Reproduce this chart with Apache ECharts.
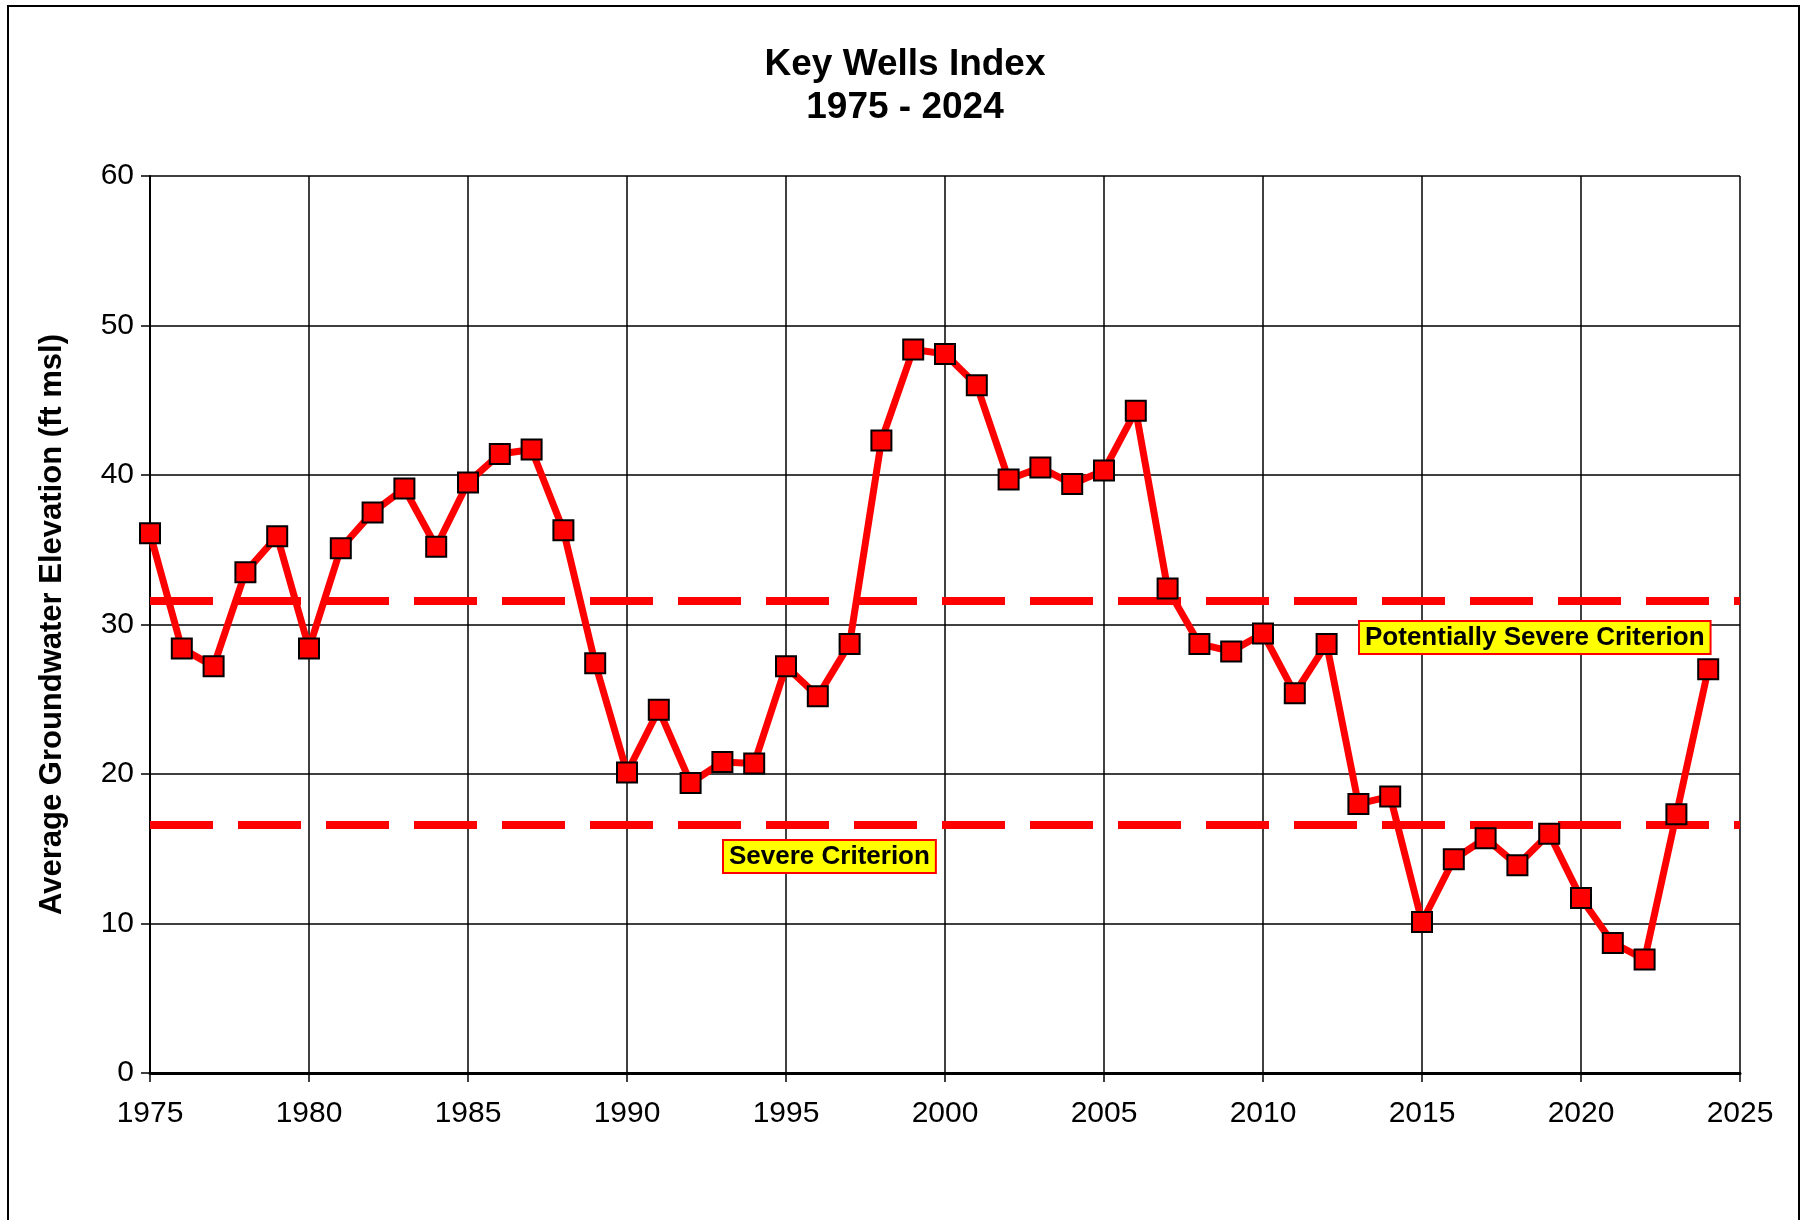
<!DOCTYPE html>
<html>
<head>
<meta charset="utf-8">
<title>Key Wells Index</title>
<script src="https://cdn.jsdelivr.net/npm/echarts@6/dist/echarts.min.js"></script>
<style>
  html, body { margin: 0; padding: 0; background: #fff; }
  #keyWellsChart { width: 1800px; height: 1220px; }
</style>
</head>
<body>
<div id="keyWellsChart"></div>
<script>
// years and average groundwater elevation (ft msl)
const years = [
  1975, 1976, 1977, 1978, 1979, 1980, 1981, 1982, 1983, 1984,
  1985, 1986, 1987, 1988, 1989, 1990, 1991, 1992, 1993, 1994,
  1995, 1996, 1997, 1998, 1999, 2000, 2001, 2002, 2003, 2004,
  2005, 2006, 2007, 2008, 2009, 2010, 2011, 2012, 2013, 2014,
  2015, 2016, 2017, 2018, 2019, 2020, 2021, 2022, 2023, 2024
];
const elevation = [
  36.1, 28.4, 27.2, 33.5, 35.9, 28.4, 35.1, 37.5, 39.1, 35.2,
  39.5, 41.4, 41.7, 36.3, 27.4, 20.1, 24.3, 19.4, 20.8, 20.7,
  27.2, 25.2, 28.7, 42.3, 48.4, 48.1, 46.0, 39.7, 40.5, 39.4,
  40.3, 44.3, 32.4, 28.7, 28.2, 29.4, 25.4, 28.7, 18.0, 18.5,
  10.1, 14.3, 15.7, 13.9, 16.0, 11.7, 8.7, 7.6, 17.3, 27.0
];
const criteriaNames = ["Potentially Severe Criterion", "Severe Criterion"];
const criteriaValues = [31.6, 16.6];

const xTicks = [1975, 2025, 5];   // min, max, interval
const yTicks = [0, 60, 10];

const fontFamily = "'Liberation Sans', Arial, sans-serif";

const chart = echarts.init(document.getElementById("keyWellsChart"));

const labelBox = {
  fontFamily: fontFamily,
  fontSize: 26,
  fontWeight: "bold",
  fill: "#000",
  backgroundColor: "#ffff00",
  borderColor: "#ff0000",
  borderWidth: 2,
  padding: [3, 5, 2, 5]
};

const option = {
  backgroundColor: "#fff",
  animation: false,
  title: {
    text: "Key Wells Index\n1975 - 2024",
    left: 900,
    top: 38,
    textAlign: "center",
    textStyle: {
      fontFamily: fontFamily,
      fontSize: 37,
      fontWeight: "bold",
      color: "#000",
      lineHeight: 43
    }
  },
  grid: {
    left: 150,
    right: 60,
    top: 176,
    bottom: 147
  },
  xAxis: {
    type: "value",
    min: xTicks[0],
    max: xTicks[1],
    interval: xTicks[2],
    axisLine: { show: true, onZero: false, lineStyle: { color: "#000", width: 3 } },
    axisTick: { show: true, inside: false, length: 9, lineStyle: { color: "#000", width: 1.5 } },
    axisLabel: {
      margin: 26,
      fontFamily: fontFamily,
      fontSize: 30,
      color: "#000",
      formatter: (v) => String(v)
    },
    splitLine: { show: true, lineStyle: { color: "#000", width: 1.5 } }
  },
  yAxis: {
    type: "value",
    min: yTicks[0],
    max: yTicks[1],
    interval: yTicks[2],
    name: "Average Groundwater Elevation (ft msl)",
    nameLocation: "middle",
    nameGap: 82,
    nameTextStyle: {
      fontFamily: fontFamily,
      fontSize: 31,
      fontWeight: "bold",
      color: "#000"
    },
    axisLine: { show: true, lineStyle: { color: "#000", width: 2 } },
    axisTick: { show: true, inside: false, length: 9, lineStyle: { color: "#000", width: 1.5 } },
    axisLabel: {
      margin: 16,
      fontFamily: fontFamily,
      fontSize: 30,
      color: "#000"
    },
    splitLine: { show: true, lineStyle: { color: "#000", width: 1.5 } }
  },
  series: [
    {
      name: "Key Wells Index",
      type: "line",
      data: years.map((y, i) => [y, elevation[i]]),
      lineStyle: { color: "#ff0000", width: 7 },
      symbol: "rect",
      symbolSize: 20,
      itemStyle: { color: "#ff0000", borderColor: "#000", borderWidth: 2 },
      z: 5,
      markLine: {
        silent: true,
        symbol: "none",
        label: { show: false },
        lineStyle: { color: "#ff0000", width: 8, type: [63, 25] },
        data: criteriaValues.map((v) => ({ yAxis: v }))
      }
    }
  ],
  graphic: [
    {
      type: "rect",
      shape: { x: 8, y: 6, width: 1791, height: 1240 },
      style: { fill: null, stroke: "#000", lineWidth: 2 },
      silent: true
    },
    {
      type: "text",
      left: 1358,
      top: 620,
      z: 10,
      style: Object.assign({ text: criteriaNames[0] }, labelBox)
    },
    {
      type: "text",
      left: 722,
      top: 839,
      z: 10,
      style: Object.assign({ text: criteriaNames[1] }, labelBox)
    }
  ]
};

chart.setOption(option);
</script>
</body>
</html>
